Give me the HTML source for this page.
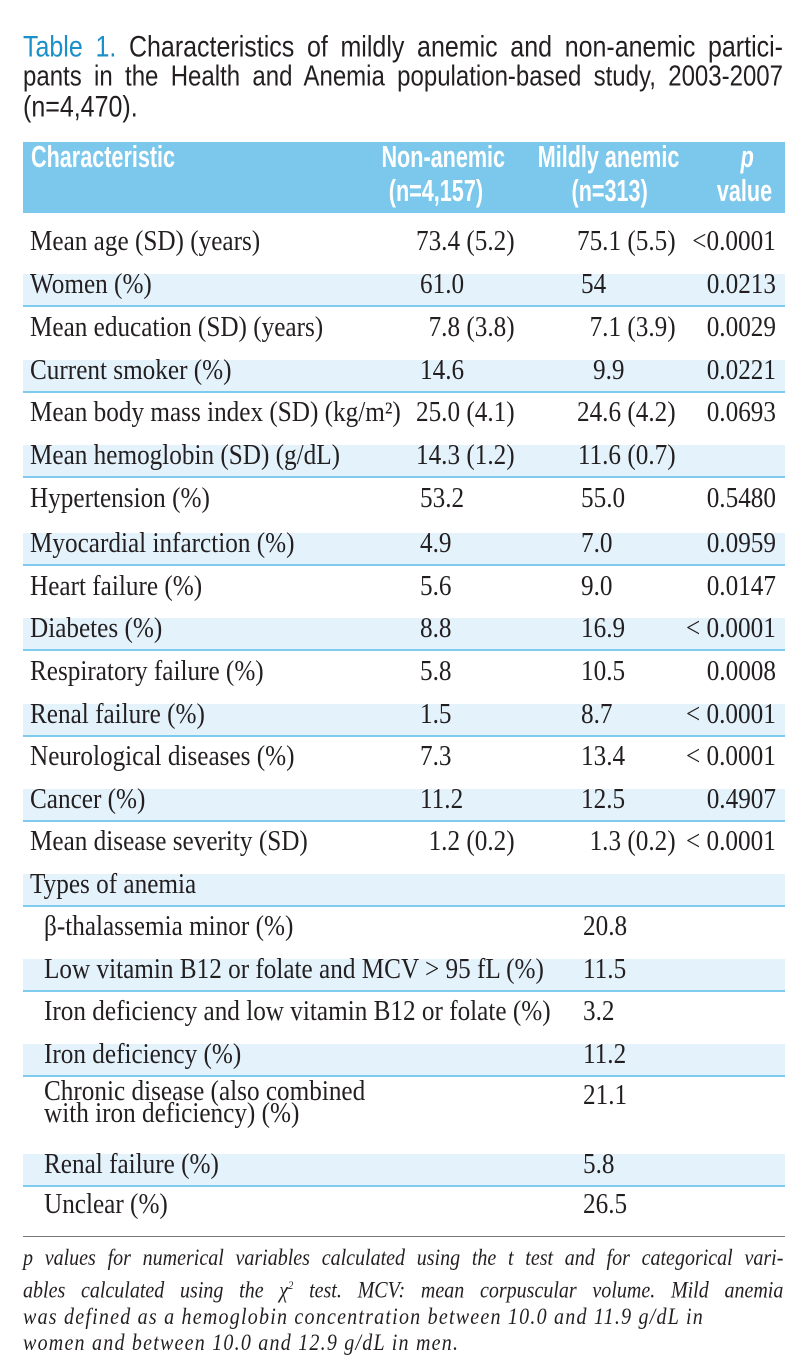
<!DOCTYPE html>
<html><head><meta charset="utf-8">
<style>
html,body{margin:0;padding:0;background:#fff;}
body{width:806px;height:1368px;position:relative;overflow:hidden;font-family:"Liberation Serif",serif;color:#231f20;}
.title{position:absolute;left:23px;width:760px;font-family:"Liberation Sans",sans-serif;font-size:25px;line-height:30px;text-align:justify;text-align-last:justify;color:#231f20;transform:scaleY(1.18);transform-origin:center;}
.hdr{position:absolute;left:23px;top:142px;width:762px;height:71px;background:#7cc8ec;}
.h{position:absolute;font-family:"Liberation Sans",sans-serif;font-weight:bold;color:#fff;font-size:27px;white-space:nowrap;transform:scale(0.8,1.12);}
.band{position:absolute;left:23px;width:762px;height:31px;background:#e4f2fb;border-bottom:2px solid #7ecbef;}
.cell{position:absolute;white-space:nowrap;font-size:28px;line-height:30px;}
.foot{position:absolute;left:23px;width:874px;font-style:italic;font-size:23px;line-height:26.5px;transform:scaleX(0.87);transform-origin:left top;}
.foot div{text-align:justify;text-align-last:justify;white-space:nowrap;}
.foot div.last{text-align-last:left;letter-spacing:1.4px;}
</style></head>
<body>
<div class="title" style="top:32px"><span style="color:#1a8fc9">Table 1.</span> Characteristics of mildly anemic and non-anemic partici-</div>
<div class="title" style="top:62px;font-size:24px">pants in the Health and Anemia population-based study, 2003-2007</div>
<div class="title" style="top:92px;text-align-last:left">(n=4,470).</div>

<div class="hdr"></div>
<div class="h" style="left:31px;top:142px;transform-origin:left">Characteristic</div>
<div class="h" style="left:366px;top:142px;transform-origin:center">Non-anemic</div>
<div class="h" style="left:377px;top:176px;transform-origin:center">(n=4,157)</div>
<div class="h" style="left:520px;top:142px;transform-origin:center">Mildly anemic</div>
<div class="h" style="left:562px;top:176px;transform-origin:center">(n=313)</div>
<div class="h" style="left:739px;top:142px;font-style:italic;transform-origin:center">p</div>
<div class="h" style="left:710px;top:176px;transform-origin:center">value</div>

<div id="rows"></div>

<div style="position:absolute;left:23px;top:1236px;width:762px;height:1px;background:#777"></div>
<div class="foot" style="top:1245px">
<div><i>p</i> values for numerical variables calculated using the <i>t</i> test and for categorical vari-</div>
<div>ables calculated using the <i>χ</i><sup style="font-size:12px">2</sup> test. MCV: mean corpuscular volume. Mild anemia</div>
<div class="last">was defined as a hemoglobin concentration between 10.0 and 11.9 g/dL in</div>
<div class="last">women and between 10.0 and 12.9 g/dL in men.</div>
</div>

<script>
const labels=["Mean age (SD) (years)","Women (%)","Mean education (SD) (years)","Current smoker (%)","Mean body mass index (SD) (kg/m²)","Mean hemoglobin (SD) (g/dL)","Hypertension (%)","Myocardial infarction (%)","Heart failure (%)","Diabetes (%)","Respiratory failure (%)","Renal failure (%)","Neurological diseases (%)","Cancer (%)","Mean disease severity (SD)","Types of anemia","β-thalassemia minor (%)","Low vitamin B12 or folate and MCV > 95 fL (%)","Iron deficiency and low vitamin B12 or folate (%)","Iron deficiency (%)","Chronic disease (also combined<br>with iron deficiency) (%)","Renal failure (%)","Unclear (%)"];
const nonAnemic=["73.4 (5.2)","61.0","7.8 (3.8)","14.6","25.0 (4.1)","14.3 (1.2)","53.2","4.9","5.6","8.8","5.8","1.5","7.3","11.2","1.2 (0.2)","","","","","","","",""];
const mildly=["75.1 (5.5)","54","7.1 (3.9)","9.9","24.6 (4.2)","11.6 (0.7)","55.0","7.0","9.0","16.9","10.5","8.7","13.4","12.5","1.3 (0.2)","","20.8","11.5","3.2","11.2","21.1","5.8","26.5"];
const pvals=["<0.0001","0.0213","0.0029","0.0221","0.0693","","0.5480","0.0959","0.0147","< 0.0001","0.0008","< 0.0001","< 0.0001","0.4907","< 0.0001","","","","","","","",""];
const centers=[243,286,329,372,414,457,500,545,588,630,673,716,758,801,843,886,928,971,1013,1056,1097,1166,1206];
const rowsEl=document.getElementById('rows');
function mk(cls,style,html){const d=document.createElement('div');d.className=cls;d.style.cssText=style;d.innerHTML=html;rowsEl.appendChild(d);return d;}
const SX='transform:scaleX(0.9);';
labels.forEach((lab,i)=>{
  const c=centers[i];
  if(i%2===1){
    const b=mk('band','top:'+(c-12)+'px','');
    
    
  }
  const indent=(i>=16)?44:30;
  const two=lab.indexOf('<br>')>=0;
  const l=mk('cell','left:'+indent+'px;top:'+(c-16)+'px;'+SX+'transform-origin:left;'+(two?'line-height:22px;':''),lab);
  
  
  const isTxt=(s)=>s.indexOf('(')<0;
  if(nonAnemic[i]){
    const s=nonAnemic[i];
    const a=isTxt(s)?mk('cell','left:420px;top:'+(c-16)+'px;'+SX+'transform-origin:left',s):mk('cell','right:'+(806-515)+'px;top:'+(c-16)+'px;'+SX+'transform-origin:right',s);
    
    
  }
  if(mildly[i]){
    const s=mildly[i];
    let st;
    if(i>=16) st='left:583px;';
    else if(!isTxt(s)) st='right:'+(806-676)+'px;';
    else if(s==='9.9') st='left:593px;';
    else st='left:581px;';
    const m=mk('cell',st+'top:'+(c-16)+'px;'+SX+'transform-origin:'+(st.indexOf('right')===0?'right':'left'),s);
    
    
  }
  if(pvals[i]){
    const p=mk('cell','right:'+(806-776)+'px;top:'+(c-16)+'px;'+SX+'transform-origin:right',pvals[i].replace('<','&lt;'));
    
    
  }
});
</script>
</body></html>
